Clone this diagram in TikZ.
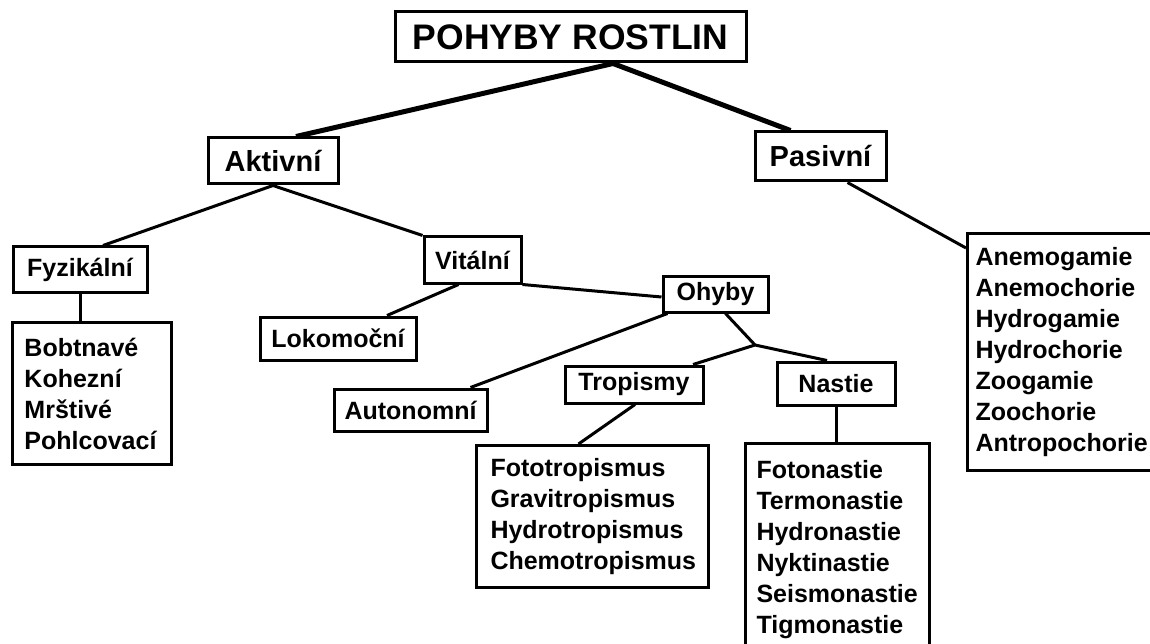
\documentclass[tikz,border=0pt]{standalone}
\usepackage{fontspec}
\setmainfont{Liberation Sans}
\pgfdeclarelayer{bg}
\pgfsetlayers{bg,main}
\begin{document}
\begin{tikzpicture}[x=1pt,y=-1pt,
  box/.style={draw, line width=3pt, fill=white, inner sep=0pt,
    font=\bfseries\fontsize{25}{31}\selectfont},
  list/.style={box, anchor=north west, align=left},
  conn/.style={line width=3pt},
  mainconn/.style={line width=5pt}]
\useasboundingbox (0,0) rectangle (1150,644);
% single-line boxes
\node[box, minimum width=351pt, minimum height=50pt, font=\bfseries\fontsize{35.5}{40}\selectfont] (title) at (570.5,37) {POHYBY ROSTLIN};
\node[box, minimum width=130pt, minimum height=46pt, font=\bfseries\fontsize{29}{34}\selectfont] (akt) at (273,161) {Aktivní};
\node[box, minimum width=131pt, minimum height=49pt, font=\bfseries\fontsize{29}{34}\selectfont] (pas) at (820.5,156.5) {Pasivní};
\node[box, minimum width=134pt, minimum height=45pt] (fyz) at (80,269.5) {Fyzikální};
\node[box, minimum width=97pt, minimum height=46pt] (vit) at (472.5,260) {Vitální};
\node[box, minimum width=156pt, minimum height=43pt] (lok) at (338,338.5) {Lokomoční};
\node[box, minimum width=105pt, minimum height=36pt] (ohy) at (715.5,294) {Ohyby};
\node[box, minimum width=153pt, minimum height=42pt] (aut) at (410.5,410) {Autonomní};
\node[box, minimum width=138pt, minimum height=37pt] (tro) at (634,384.5) {Tropismy};
\node[box, minimum width=118pt, minimum height=43pt] (nas) at (836,383.5) {Nastie};
% list boxes
\node[list, text width=159pt, minimum height=142pt] (bob) at (11,321)
  {\parindent=0pt\leftskip=12pt Bobtnavé\\Kohezní\\Mrštivé\\Pohlcovací\par};
\node[list, text width=232pt, minimum height=142pt] (fto) at (475,444)
  {\parindent=0pt\leftskip=14pt Fototropismus\\Gravitropismus\\Hydrotropismus\\Chemotropismus\par\vspace*{8pt}};
\node[list, text width=184pt, minimum height=212pt] (fna) at (744,442)
  {\parindent=0pt\leftskip=11pt Fotonastie\\Termonastie\\Hydronastie\\Nyktinastie\\Seismonastie\\Tigmonastie\par};
\node[list, text width=200pt, minimum height=237pt] (pli) at (966,232)
  {\parindent=0pt\leftskip=8pt Anemogamie\\Anemochorie\\Hydrogamie\\Hydrochorie\\Zoogamie\\Zoochorie\\Antropochorie\par};
\coordinate (j) at (755,345);
\begin{pgfonlayer}{bg}
\fill[white] (0,0) rectangle (1150,644);
\draw[mainconn] ([xshift=42.5pt]title.south) -- ([xshift=23pt]akt.north);
\draw[mainconn] ([xshift=42.5pt]title.south) -- ([xshift=-30pt]pas.north);
\draw[conn] (akt.south) -- ([xshift=23pt]fyz.north);
\draw[conn] (akt.south) -- (vit.north west);
\draw[conn] (fyz.south) -- (fyz.south |- bob.north);
\draw[conn] ([xshift=-14pt]vit.south) -- ([xshift=49pt]lok.north);
\draw[conn] (vit.south east) -- ([yshift=-3pt]ohy.west);
\draw[conn] ([xshift=-48pt]ohy.south) -- ([xshift=60pt]aut.north);
\draw[conn] ([xshift=10pt]ohy.south) -- (j);
\draw[conn] (j) -- ([xshift=59pt]tro.north);
\draw[conn] (j) -- ([xshift=-9pt]nas.north);
\draw[conn] ([xshift=1pt]tro.south) -- ([xshift=-14pt]fto.north);
\draw[conn] (nas.south) -- (nas.south |- fna.north);
\draw[conn] ([xshift=27pt]pas.south) -- ([yshift=-16pt]pli.north west);
\end{pgfonlayer}
\end{tikzpicture}
\end{document}
